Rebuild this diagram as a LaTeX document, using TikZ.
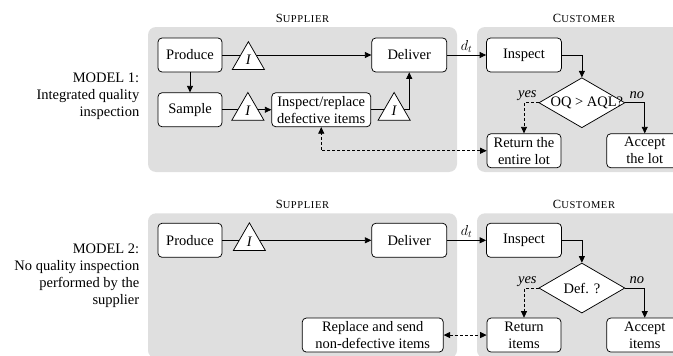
\documentclass[tikz,border=0pt]{standalone}
\usepackage{fontspec}
\setmainfont{Liberation Serif}
\newfontfamily\capsfont[LetterSpace=6]{Liberation Serif}
\usetikzlibrary{positioning,arrows.meta,shapes.geometric}

\newcommand{\party}[2]{{\capsfont\fontsize{12.5}{14}\selectfont #1\fontsize{10.5}{14}\selectfont #2}}

\begin{document}
\begin{tikzpicture}[x=1pt, y=1pt, line width=0.75pt,
  font=\fontsize{14.5}{17}\selectfont,
  >={Triangle[length=6.5pt,width=6pt]},
  panel/.style={fill=gray!25, rounded corners=8pt, inner sep=0pt},
  partylabel/.style={inner sep=0pt},
  sidelabel/.style={align=right, inner sep=0pt},
  procbox/.style={draw, fill=white, rounded corners=4pt, align=center, minimum height=34pt, inner sep=1pt},
  invtri/.style={draw, fill=white, regular polygon, regular polygon sides=3, minimum size=37pt, inner sep=0pt, font=\fontsize{14.5}{17}\selectfont\itshape},
  decision/.style={draw, fill=white, diamond, minimum width=86pt, minimum height=50pt, inner sep=0pt},
  answer/.style={font=\fontsize{14.5}{17}\selectfont\itshape},
  dashlink/.style={dash pattern=on 3pt off 2pt}]
  \clip (0,0) rectangle (673,-356);

  % model 1
  \node[panel, minimum width=309pt, minimum height=145pt] (supA) at (302.5,-99.5) {};
  \node[panel, minimum width=214pt, minimum height=145pt] (cusA) at (584,-99.5) {};
  \node[partylabel, above=4pt of supA] (supAlbl) {\party{S}{UPPLIER}};
  \node[partylabel, above=4pt of cusA] (cusAlbl) {\party{C}{USTOMER}};
  \node[sidelabel, left=8pt of supA, yshift=3pt] (modA) {MODEL 1:\\Integrated quality\\inspection};

  \node[procbox, minimum width=64pt, below right=11pt and 10pt of supA.north west] (prodA) {Produce};
  \node[procbox, minimum width=75pt, right=149pt of prodA] (delivA) {Deliver};
  \node[procbox, minimum width=75pt, right=39pt of delivA] (inspA) {Inspect};
  \node[procbox, minimum width=64pt, below=20pt of prodA] (sampA) {Sample};
  \node[procbox, minimum width=99pt, right=49pt of sampA] (irepA) {Inspect/replace\\defective items};
  \node[decision, below=5pt of inspA.south east, xshift=20pt] (decA) {\makebox[0pt]{\kern10pt OQ > AQL?}};
  \node[procbox, minimum width=74pt, below=61pt of inspA] (retA) {Return the\\entire lot};
  \node[procbox, minimum width=76pt, right=45pt of retA] (accA) {Accept\\the lot};

  \draw[->] (prodA) -- (delivA);
  \draw[->] (prodA) -- (sampA);
  \draw[->] (sampA) -- (irepA);
  \draw[->] (irepA) -| (delivA);
  \draw[->] (delivA) -- node[above, inner sep=2pt] (dtA) {$d_t$} (inspA);
  \draw[->] (inspA) -| (decA);
  \draw[->, dashlink] (decA.west) node[answer, above left, inner sep=1.5pt] (yesA) {yes} -| (retA);
  \draw[->] (decA.east) node[answer, above right, inner sep=4pt] (noA) {no} -| (accA);
  \draw[<->, dashlink] (retA) -| (irepA);

  \node[invtri, right=26pt of prodA, anchor=center, yshift=-5.2pt] (invA1) {I};
  \node[invtri, right=25.5pt of sampA, anchor=center, yshift=-1.2pt] (invA2) {I};
  \node[invtri, right=23pt of irepA, anchor=center, yshift=-1.2pt] (invA3) {I};

  % model 2
  \node[panel, minimum width=309pt, minimum height=145pt] (supB) at (302.5,-285.8) {};
  \node[panel, minimum width=214pt, minimum height=145pt] (cusB) at (584,-285.8) {};
  \node[partylabel, above=4pt of supB] (supBlbl) {\party{S}{UPPLIER}};
  \node[partylabel, above=4pt of cusB] (cusBlbl) {\party{C}{USTOMER}};
  \node[sidelabel, left=8pt of supB, yshift=10pt] (modB) {MODEL 2:\\No quality inspection\\performed by the\\supplier};

  \node[procbox, minimum width=64pt, below right=10pt and 10pt of supB.north west] (prodB) {Produce};
  \node[procbox, minimum width=75pt, right=149pt of prodB] (delivB) {Deliver};
  \node[procbox, minimum width=75pt, right=39pt of delivB] (inspB) {Inspect};
  \node[decision, below=5pt of inspB.south east, xshift=20pt] (decB) {\makebox[0pt]{Def. ?}};
  \node[procbox, minimum width=74pt, below=60pt of inspB] (retB) {Return\\items};
  \node[procbox, minimum width=76pt, right=45pt of retB] (accB) {Accept\\items};
  \node[procbox, minimum width=141pt, left=43pt of retB] (repB) {Replace and send\\non-defective items};

  \draw[->] (prodB) -- (delivB);
  \draw[->] (delivB) -- node[above, inner sep=2pt] (dtB) {$d_t$} (inspB);
  \draw[->] (inspB) -| (decB);
  \draw[->, dashlink] (decB.west) node[answer, above left, inner sep=1.5pt] (yesB) {yes} -| (retB);
  \draw[->] (decB.east) node[answer, above right, inner sep=4pt] (noB) {no} -| (accB);
  \draw[<->, dashlink] (repB) -- (retB);

  \node[invtri, right=27pt of prodB, anchor=center, yshift=-1pt] (invB1) {I};
\end{tikzpicture}
\end{document}
